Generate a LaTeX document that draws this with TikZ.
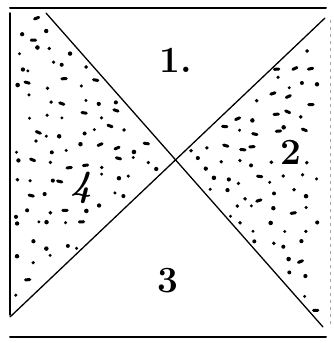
\documentclass[tikz,border=0pt]{standalone}
\usepackage{fontspec}
\usetikzlibrary{calc}

\begin{document}
\begin{tikzpicture}[
  x=1pt, y=-1pt,
  edge/.style  = {line width=1.6pt, line cap=round},
  diag/.style  = {line width=1.3pt, line cap=round},
  faint/.style = {line width=0.8pt, black!35, dash pattern=on 3pt off 4pt},
  num/.style   = {font=\fontsize{37}{40}\selectfont\bfseries, inner sep=0pt},
  dot/.style   = {fill=black},
  speck/.style = {line width=3pt, line cap=round}
]
\useasboundingbox (0,0) rectangle (334,343);

% ------------------------------------------------------------- il quadrato --
\coordinate (tl) at (10,8);
\coordinate (tr) at (326,8);
\coordinate (bl) at (10,337);
\coordinate (br) at (326,337);
\coordinate (d1a) at (46,13);
\coordinate (d1b) at (323,327);
\coordinate (d2a) at (325,18);
\coordinate (d2b) at (10,317);

\draw[edge, line width=2pt] (tl) -- (tr);
\draw[edge] (10,13) -- (10,315);
\draw[edge, line width=2pt] (bl) -- (br);
\draw[faint] (330,20) -- (330,325);

% --------------------------------------------------------------- diagonali --
\draw[diag] (d1a) -- (d1b);
\draw[diag] (d2a) -- (d2b);

% ---------------------------------------------------------------- puntini --
% griglia con scarto casuale; si tiene solo cio' che cade nei triangoli 4 e 2,
% lasciando libero un po' di posto intorno ai numeri
\pgfmathsetseed{23}
\foreach \gx in {17,33,...,321}{
  \foreach \gy in {19,35,...,323}{
    \pgfmathsetmacro{\px}{\gx+12*rnd-6}
    \pgfmathsetmacro{\py}{\gy+12*rnd-6}
    \pgfmathsetmacro{\xa}{46+(\py-13)*0.882}
    \pgfmathsetmacro{\xb}{325-(\py-18)*1.0535}
    \pgfmathtruncatemacro{\inl}{and(\px>15, and(\px<\xa-5, \px<\xb-5))}
    \pgfmathtruncatemacro{\inr}{and(\px<321, and(\px>\xa+5, \px>\xb+5))}
    \pgfmathtruncatemacro{\free}{and(veclen(\px-81,\py-188)>19, veclen(\px-291,\py-152)>15)}
    \pgfmathtruncatemacro{\keep}{and(and(or(\inl,\inr),\free), and(\py>15, \py<322))}
    \pgfmathtruncatemacro{\kind}{rnd<0.3}
    \pgfmathsetmacro{\rr}{1.6+0.7*rnd}
    \pgfmathsetmacro{\ang}{-25+50*rnd}
    \ifnum\keep=1
      \ifnum\kind=1
        \draw[speck] ($(\px,\py)+(\ang:-2.2)$) -- ($(\px,\py)+(\ang:2.2)$);
      \else
        \fill[dot] (\px,\py) circle[radius=\rr];
      \fi
    \fi
  }
}

% ------------------------------------------------------------------ numeri --
\node[num] (n1) at (176,60)  {1.};
\node[num] (n2) at (291,152) {2};
\node[num] (n3) at (168,281) {3};
\node[num, font=\fontsize{37}{40}\selectfont\bfseries\itshape] (n4) at (81,188) {4};

\end{tikzpicture}
\end{document}
